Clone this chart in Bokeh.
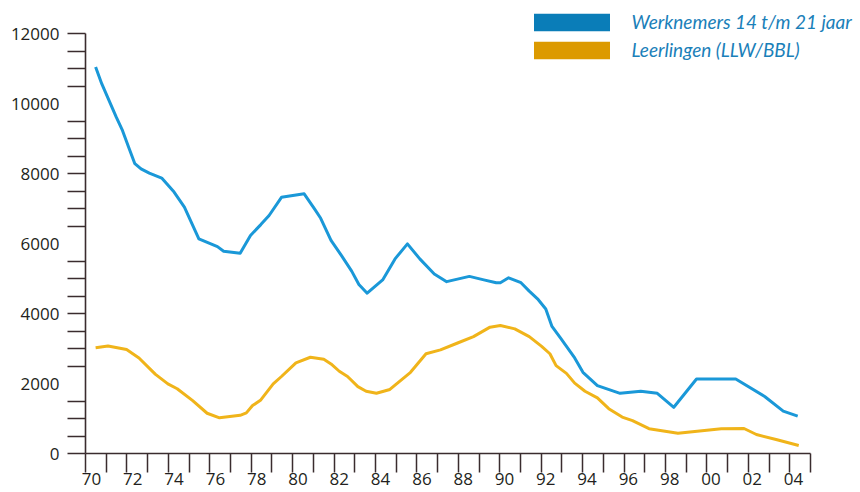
import numpy as np
from bokeh.plotting import figure
from bokeh.models import Range1d, FixedTicker, Legend, LegendItem
from bokeh.embed import file_html
from bokeh.resources import INLINE

# ---- data (years as 70 = 1970, 100 = 2000) ----
werk_year = [70.2, 70.5, 71.2, 71.5, 71.8, 72.1, 72.4, 72.8, 73.4, 74.0, 74.5, 75.2,
             76.1, 76.4, 77.2, 77.7, 78.2, 78.6, 79.2, 80.3, 80.8, 81.1, 81.6, 82.1,
             82.6, 82.95, 83.35, 84.1, 84.7, 85.3, 85.9, 86.6, 87.2, 88.3, 89.0, 89.6,
             89.8, 90.2, 90.8, 91.2, 91.6, 92.0, 92.3, 92.7, 93.4, 93.8, 94.5, 95.6,
             96.6, 97.4, 98.2, 99.3, 101.2, 102.6, 103.5, 104.2]
werk_val = [11040, 10560, 9610, 9230, 8750, 8280, 8130, 8010, 7870, 7470, 7040, 6130,
            5910, 5780, 5720, 6230, 6540, 6800, 7320, 7420, 6990, 6720, 6090, 5660,
            5210, 4830, 4580, 4960, 5560, 5990, 5560, 5130, 4910, 5060, 4960, 4880,
            4880, 5020, 4880, 4640, 4420, 4130, 3630, 3310, 2730, 2320, 1940, 1720,
            1780, 1720, 1320, 2130, 2130, 1630, 1210, 1070]

leer_year = [70.2, 70.8, 71.7, 72.3, 73.1, 73.7, 74.15, 74.9, 75.6, 76.2, 77.2, 77.5,
             77.8, 78.2, 78.8, 79.2, 79.9, 80.6, 81.25, 81.6, 82.0, 82.4, 82.9, 83.3,
             83.8, 84.45, 85.45, 86.2, 86.9, 87.7, 88.5, 89.3, 89.8, 90.5, 91.2, 91.8,
             92.2, 92.5, 93.0, 93.4, 93.9, 94.5, 95.05, 95.7, 96.2, 97.0, 98.4, 100.5,
             101.6, 102.2, 103.2, 104.25]
leer_val = [3020, 3070, 2970, 2730, 2260, 1990, 1850, 1510, 1150, 1020, 1090, 1160,
            1370, 1530, 1990, 2200, 2590, 2750, 2690, 2560, 2350, 2200, 1910, 1780,
            1720, 1830, 2320, 2850, 2960, 3150, 3340, 3610, 3655, 3560, 3340, 3060,
            2850, 2510, 2290, 2010, 1780, 1590, 1280, 1040, 940, 710, 580, 706,
            714, 543, 391, 230]

series_names = ["Werknemers 14 t/m 21 jaar", "Leerlingen (LLW/BBL)"]

x_label_years = list(range(70, 105, 2))
x_label_text = [f"{y % 100:02d}" for y in x_label_years]
y_label_values = list(range(0, 12001, 2000))
y_tick_marks = [v for v in range(0, 12001, 500) if v not in (2000, 6000, 10000)]

# ---- styling ----
LINE_BLUE = "#1a98d8"
LINE_ORANGE = "#f0b41a"
SW_BLUE = "#0a7db8"
SW_ORANGE = "#dc9a00"
AXIS = "#3a2c2e"
TXT = "#231f20"

X0, X1 = 69.71, 104.82          # extent of the drawn x axis
Y1 = 12000                      # top of the drawn y axis

p = figure(width=860, height=492, output_backend="svg", toolbar_location=None,
           x_range=Range1d(X0, X1 + 50 / 20.65), y_range=Range1d(0, Y1 + 33 / 0.035),
           min_border_left=85, min_border_right=0, min_border_top=0, min_border_bottom=39)
p.grid.visible = False
p.outline_line_color = None
p.background_fill_color = "white"
p.border_fill_color = "white"

p.line(werk_year, werk_val, line_color=LINE_BLUE, line_width=3, line_join="round")
p.line(leer_year, leer_val, line_color=LINE_ORANGE, line_width=3, line_join="round")

# x axis
p.xaxis.bounds = (X0, X1)
p.xaxis.ticker = FixedTicker(ticks=x_label_years,
                             minor_ticks=list(np.linspace(X0, X1, 36)))
p.xaxis.major_label_overrides = {y: t for y, t in zip(x_label_years, x_label_text)}
p.xaxis.major_tick_line_color = None
p.xaxis.major_tick_out = 16
p.xaxis.major_tick_in = 0
p.xaxis.minor_tick_out = 19
p.xaxis.minor_tick_in = 0
p.xaxis.major_label_standoff = 0

# y axis
p.yaxis.bounds = (0, Y1)
p.yaxis.ticker = FixedTicker(ticks=y_label_values, minor_ticks=y_tick_marks)
p.yaxis.major_tick_line_color = None
p.yaxis.major_tick_out = 18
p.yaxis.major_tick_in = 0
p.yaxis.minor_tick_out = 18
p.yaxis.minor_tick_in = 0
p.yaxis.major_label_standoff = 8

for ax in (p.xaxis, p.yaxis):
    ax.axis_line_color = AXIS
    ax.axis_line_width = 1.6
    ax.minor_tick_line_color = AXIS
    ax.minor_tick_line_width = 1.5
    ax.major_label_text_font = "Open Sans"
    ax.major_label_text_font_size = "17px"
    ax.major_label_text_color = TXT

# legend with colour swatches (glyphs carry no visible data)
r1 = p.quad(left=[np.nan], right=[np.nan], top=[np.nan], bottom=[np.nan],
            fill_color=SW_BLUE, line_color=None)
r2 = p.quad(left=[np.nan], right=[np.nan], top=[np.nan], bottom=[np.nan],
            fill_color=SW_ORANGE, line_color=None)
legend = Legend(items=[LegendItem(label=series_names[0], renderers=[r1]),
                       LegendItem(label=series_names[1], renderers=[r2])],
                location=(438.5, 392), glyph_width=95, glyph_height=22,
                label_height=18, spacing=5, padding=0, margin=0,
                label_standoff=13, border_line_color=None,
                background_fill_alpha=0,
                label_text_font="Lato", label_text_font_style="italic",
                label_text_font_size="19px", label_text_color="#1a80b9")
p.add_layout(legend)

open("out.html", "w").write(file_html(p, INLINE))
